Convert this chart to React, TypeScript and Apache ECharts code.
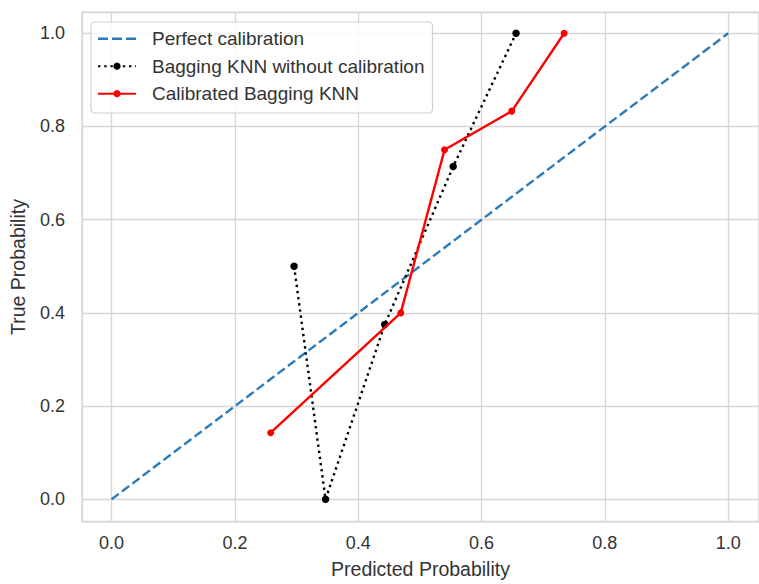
import React, { useEffect, useRef } from "react";
import * as echarts from "echarts";

const seriesNames = [
  "Perfect calibration",
  "Bagging KNN without calibration",
  "Calibrated Bagging KNN",
];
const perfectX = [0, 1];
const perfectY = [0, 1];
const uncalX = [0.296, 0.347, 0.443, 0.554, 0.656];
const uncalY = [0.5, 0.0, 0.375, 0.714, 1.0];
const calX = [0.258, 0.469, 0.54, 0.649, 0.734];
const calY = [0.143, 0.4, 0.75, 0.833, 1.0];
const xTicks = [0, 0.2, 0.4, 0.6, 0.8, 1.0];
const yTicks = [0, 0.2, 0.4, 0.6, 0.8, 1.0];

const FONT = "'Liberation Sans', Arial, sans-serif";
const TEXT = "#333333";
const GRIDC = "#d6d6d6";

const zip = (xs: number[], ys: number[]) => xs.map((x, i) => [x, ys[i]]);
const tickFmt = (ticks: number[]) => (v: number) =>
  ticks.some((t) => Math.abs(t - v) < 1e-6) ? v.toFixed(1) : "";

export default function App() {
  const ref = useRef<HTMLDivElement>(null);
  useEffect(() => {
    if (!ref.current) return;
    const chart = echarts.init(ref.current, undefined, { renderer: "svg" });
    chart.setOption({
      animation: false,
      backgroundColor: "#ffffff",
      textStyle: { fontFamily: FONT },
      grid: {
        left: 82,
        top: 12.3,
        width: 681,
        height: 509.4,
        show: true,
        borderColor: GRIDC,
        borderWidth: 1.4,
        backgroundColor: "transparent",
      },
      legend: {
        orient: "vertical",
        left: 91,
        top: 22,
        padding: [5.7, 8, 8.3, 6],
        itemWidth: 38,
        itemHeight: 9,
        itemGap: 5.5,
        backgroundColor: "rgba(255,255,255,0.8)",
        borderColor: "#d0d0d0",
        borderWidth: 1.2,
        borderRadius: 4,
        textStyle: {
          fontFamily: FONT,
          fontSize: 19,
          color: TEXT,
          lineHeight: 22,
          padding: [0, 0, 0, 11],
        },
        data: [
          {
            name: seriesNames[0],
            icon: "path://M0,0h10v2.4h-10zM14,0h10v2.4h-10zM28,0h10v2.4h-10z",
          },
          { name: seriesNames[1] },
          { name: seriesNames[2] },
        ],
      },
      xAxis: {
        type: "value",
        min: -0.048,
        max: 1.05,
        splitNumber: 5,
        name: "Predicted Probability",
        nameLocation: "middle",
        nameGap: 37,
        nameTextStyle: { fontFamily: FONT, fontSize: 19.5, color: TEXT },
        axisLine: { show: false },
        axisTick: { show: false },
        axisLabel: {
          margin: 12,
          fontFamily: FONT,
          fontSize: 18,
          color: TEXT,
          showMinLabel: false,
          showMaxLabel: false,
          formatter: tickFmt(xTicks),
        },
        splitLine: { show: true, lineStyle: { color: GRIDC, width: 1.3 } },
      },
      yAxis: {
        type: "value",
        min: -0.048,
        max: 1.045,
        splitNumber: 5,
        name: "True Probability",
        nameLocation: "middle",
        nameGap: 54,
        nameTextStyle: { fontFamily: FONT, fontSize: 19.5, color: TEXT },
        axisLine: { show: false },
        axisTick: { show: false },
        axisLabel: {
          margin: 17,
          fontFamily: FONT,
          fontSize: 18,
          color: TEXT,
          showMinLabel: false,
          showMaxLabel: false,
          formatter: tickFmt(yTicks),
        },
        splitLine: { show: true, lineStyle: { color: GRIDC, width: 1.3 } },
      },
      series: [
        {
          name: seriesNames[0],
          type: "line",
          data: zip(perfectX, perfectY),
          symbol: "none",
          color: "#2b7bba",
          lineStyle: { color: "#2b7bba", width: 2.4, type: [9, 4] },
          z: 2,
        },
        {
          name: seriesNames[1],
          type: "line",
          data: zip(uncalX, uncalY),
          symbol: "circle",
          symbolSize: 7.5,
          color: "#000000",
          itemStyle: { color: "#000000" },
          lineStyle: { color: "#000000", width: 2.4, type: [2.4, 3.8] },
          z: 3,
        },
        {
          name: seriesNames[2],
          type: "line",
          data: zip(calX, calY),
          symbol: "circle",
          symbolSize: 7,
          color: "#ff0000",
          itemStyle: { color: "#ff0000" },
          lineStyle: { color: "#ff0000", width: 2.4 },
          z: 4,
        },
      ],
    });
    return () => chart.dispose();
  }, []);
  return (
    <div
      ref={ref}
      style={{ position: "fixed", left: 0, top: 0, width: 759, height: 584 }}
    />
  );
}
